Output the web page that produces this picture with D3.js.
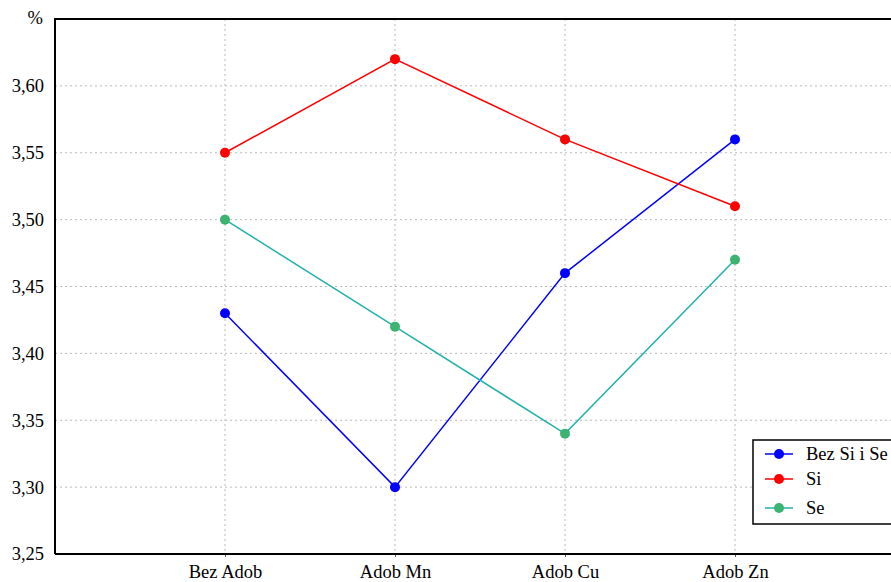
<!DOCTYPE html>
<html><head><meta charset="utf-8">
<script src="https://cdn.jsdelivr.net/npm/d3@7"></script>
<style>body{margin:0;background:#fff}svg{display:block}text{font-family:"Liberation Serif","Times New Roman",serif}</style>
</head><body><svg id="c" width="891" height="582"></svg>
<script>
const categories = ["Bez Adob","Adob Mn","Adob Cu","Adob Zn"];
const seriesNames = ["Bez Si i Se","Si","Se"];
const bezSiSe = [3.43,3.30,3.46,3.56];
const si = [3.55,3.62,3.56,3.51];
const se = [3.50,3.42,3.34,3.47];
const yTicks = [3.25,3.30,3.35,3.40,3.45,3.50,3.55,3.60];
const lineColors = ["#0000ff","#ff0000","#20b2aa"];
const markColors = ["#0000ff","#ff0000","#3cb371"];
const series = [bezSiSe, si, se];

const svg = d3.select("#c");
const L=55, R=905, T=19, B=554;
const FS=18.5;
const x = d3.scalePoint().domain(categories).range([L,R]).padding(1);
const y = d3.scaleLinear().domain([3.25,3.65]).range([B,T]);

// grid
svg.append("g").selectAll("line").data(yTicks.slice(1)).join("line")
  .attr("x1",L).attr("x2",891).attr("y1",d=>y(d)).attr("y2",d=>y(d))
  .attr("stroke","#bbb").attr("stroke-dasharray","2,3");
svg.append("g").selectAll("line").data(categories).join("line")
  .attr("x1",d=>x(d)).attr("x2",d=>x(d)).attr("y1",T).attr("y2",B)
  .attr("stroke","#bbb").attr("stroke-dasharray","2,3");

// axes
const ya = svg.append("g").attr("transform",`translate(${L},0)`)
  .call(d3.axisLeft(y).tickValues(yTicks).tickSize(0).tickPadding(11).tickFormat(d=>d3.format(".2f")(d).replace(".",",")));
ya.select(".domain").remove();
ya.selectAll("text").attr("font-size",FS).attr("fill","#000");
const xa = svg.append("g").attr("transform",`translate(0,${B})`)
  .call(d3.axisBottom(x).tickSize(3).tickPadding(8));
xa.select(".domain").remove();
xa.selectAll("line").attr("stroke","#555");
xa.selectAll("text").attr("font-size",FS).attr("fill","#000");

svg.append("path").attr("d",`M${L},${B}V${T}H891`).attr("fill","none").attr("stroke","#000").attr("stroke-width",2);
svg.append("line").attr("x1",L).attr("x2",891).attr("y1",B).attr("y2",B).attr("stroke","#000").attr("stroke-width",2);
svg.append("text").attr("x",43).attr("y",24).attr("text-anchor","end").attr("font-size",FS).text("%");

// series
const line = d3.line().x((d,i)=>x(categories[i])).y(d=>y(d));
series.forEach((s,k)=>{
  svg.append("path").datum(s).attr("d",line).attr("fill","none").attr("stroke",lineColors[k]).attr("stroke-width",1.5);
  svg.append("g").selectAll("circle").data(s).join("circle")
    .attr("cx",(d,i)=>x(categories[i])).attr("cy",d=>y(d)).attr("r",5).attr("fill",markColors[k]);
});

// legend
const lg = svg.append("g").attr("transform","translate(753,440)");
lg.append("rect").attr("x",0).attr("y",0).attr("width",150).attr("height",84).attr("fill","#fff").attr("stroke","#000").attr("stroke-width",1.5);
const ly=[14,39,68];
seriesNames.forEach((n,k)=>{
  lg.append("line").attr("x1",12).attr("x2",40).attr("y1",ly[k]).attr("y2",ly[k]).attr("stroke",lineColors[k]).attr("stroke-width",1.5);
  lg.append("circle").attr("cx",26).attr("cy",ly[k]).attr("r",5).attr("fill",markColors[k]);
  lg.append("text").attr("x",53).attr("y",ly[k]+6).attr("font-size",FS).text(n);
});
</script></body></html>
